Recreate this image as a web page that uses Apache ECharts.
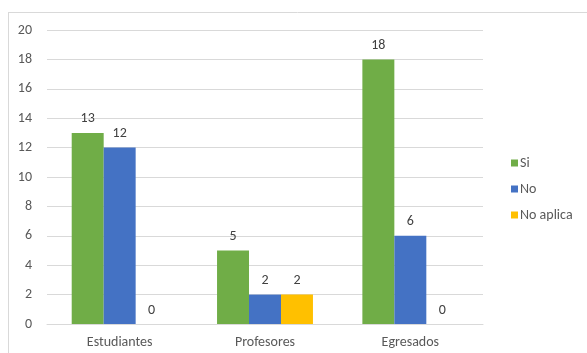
<!DOCTYPE html>
<html><head><meta charset="utf-8">
<script src="https://cdn.jsdelivr.net/npm/echarts@6/dist/echarts.min.js"></script>
<style>html,body{margin:0;padding:0;background:#fff}#c{width:587px;height:353px}</style>
</head><body><div id="c"></div>
<script>
const categories = ['Estudiantes', 'Profesores', 'Egresados'];
const seriesNames = ['Si', 'No', 'No aplica'];
const siValues = [13, 5, 18];
const noValues = [12, 2, 6];
const noAplicaValues = [0, 2, 0];
const colors = ['#70AD47', '#4472C4', '#FFC000'];
const font = 'Calibri, Carlito, "Open Sans", "Liberation Sans", sans-serif';

const chart = echarts.init(document.getElementById('c'), null, {renderer: 'canvas'});
const mk = (name, data, color) => ({
  name, type: 'bar', data, barGap: '0%', barCategoryGap: '34%',
  itemStyle: {color},
  label: {show: true, position: 'top', distance: 7, color: '#404040', fontSize: 14, fontFamily: font},
  emphasis: {disabled: true}
});
chart.setOption({
  animation: false,
  graphic: [
    {type: 'line', shape: {x1: 8, y1: 12.5, x2: 587, y2: 12.5}, style: {stroke: '#d9d9d9', lineWidth: 1}},
    {type: 'line', shape: {x1: 8.5, y1: 12, x2: 8.5, y2: 353}, style: {stroke: '#d9d9d9', lineWidth: 1}}
  ],
  grid: {left: 47, right: 104, top: 30, bottom: 29, containLabel: false},
  legend: {
    orient: 'vertical', left: 506, top: 151, itemGap: 12, itemWidth: 7, itemHeight: 7,
    icon: 'rect', data: seriesNames,
    textStyle: {color: '#595959', fontSize: 14, fontFamily: font, padding: [0, 0, 0, -3]}
  },
  xAxis: {
    type: 'category', data: categories,
    axisLine: {lineStyle: {color: '#d9d9d9'}}, axisTick: {show: false},
    axisLabel: {color: '#595959', fontSize: 14, fontFamily: font, margin: 11}
  },
  yAxis: {
    type: 'value', min: 0, max: 20, interval: 2,
    axisLine: {show: false}, axisTick: {show: false},
    splitLine: {lineStyle: {color: '#d9d9d9'}},
    axisLabel: {color: '#595959', fontSize: 14, fontFamily: font, margin: 15}
  },
  series: [mk(seriesNames[0], siValues, colors[0]), mk(seriesNames[1], noValues, colors[1]), mk(seriesNames[2], noAplicaValues, colors[2])]
});
</script></body></html>
